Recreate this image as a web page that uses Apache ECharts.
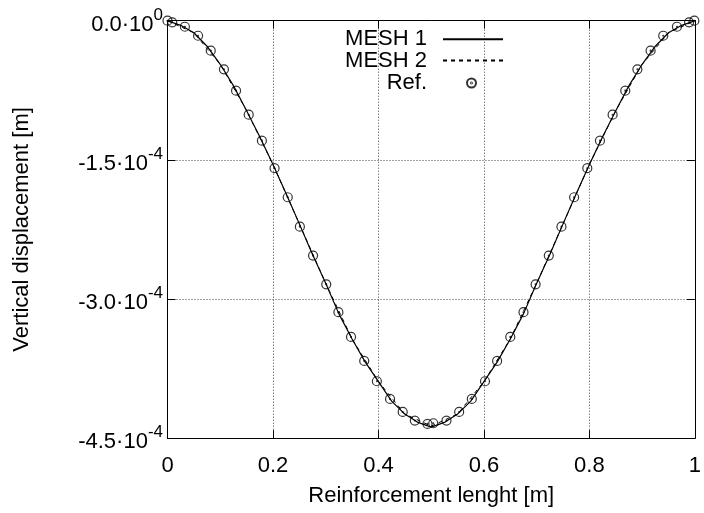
<!DOCTYPE html>
<html>
<head>
<meta charset="utf-8">
<script src="https://cdn.jsdelivr.net/npm/echarts@6/dist/echarts.min.js"></script>
<style>
html, body { margin: 0; padding: 0; background: #fff; }
#chart { width: 704px; height: 513px; }
</style>
</head>
<body>
<div id="chart"></div>
<script>
// MESH 1 (fine mesh)
const mesh1X = [0, 0.025, 0.05, 0.075, 0.1, 0.125, 0.15, 0.175, 0.2, 0.225, 0.25, 0.275, 0.3, 0.325, 0.35, 0.375, 0.4, 0.425, 0.45, 0.475,
    0.5, 0.525, 0.55, 0.575, 0.6, 0.625, 0.65, 0.675, 0.7, 0.725, 0.75, 0.775, 0.8, 0.825, 0.85, 0.875, 0.9, 0.925, 0.95, 0.975, 1];
const mesh1Y = [0, -0.05e-4, -0.13e-4, -0.275e-4, -0.47e-4, -0.70e-4, -0.97e-4, -1.25e-4, -1.55e-4, -1.865e-4, -2.19e-4, -2.52e-4, -2.83e-4, -3.16e-4, -3.43e-4, -3.68e-4, -3.89e-4, -4.10e-4, -4.24e-4, -4.33e-4,
    -4.38e-4, -4.33e-4, -4.24e-4, -4.10e-4, -3.89e-4, -3.68e-4, -3.43e-4, -3.16e-4, -2.83e-4, -2.52e-4, -2.19e-4, -1.865e-4, -1.55e-4, -1.25e-4, -0.97e-4, -0.70e-4, -0.47e-4, -0.275e-4, -0.13e-4, -0.05e-4, 0];

// MESH 2 (coarser mesh)
const mesh2X = [0, 0.05, 0.1, 0.15, 0.2, 0.25, 0.3, 0.35, 0.4, 0.45, 0.5, 0.55, 0.6, 0.65, 0.7, 0.75, 0.8, 0.85, 0.9, 0.95, 1];
const mesh2Y = [0, -0.13e-4, -0.47e-4, -0.97e-4, -1.55e-4, -2.19e-4, -2.83e-4, -3.43e-4, -3.89e-4, -4.24e-4, -4.37e-4,
    -4.24e-4, -3.89e-4, -3.43e-4, -2.83e-4, -2.19e-4, -1.55e-4, -0.97e-4, -0.47e-4, -0.13e-4, 0];

// reference points
const refX = [0, 0.009, 0.033, 0.058, 0.082, 0.107, 0.130, 0.154, 0.179, 0.203, 0.228, 0.251, 0.276, 0.301, 0.324, 0.348, 0.373, 0.397, 0.422, 0.446, 0.469, 0.493,
    0.504, 0.529, 0.553, 0.577, 0.602, 0.625, 0.650, 0.675, 0.698, 0.723, 0.747, 0.771, 0.796, 0.820, 0.844, 0.868, 0.891, 0.916, 0.940, 0.966, 0.989, 0.999];
const refY = [0, -0.017e-4, -0.065e-4, -0.162e-4, -0.323e-4, -0.524e-4, -0.754e-4, -1.013e-4, -1.293e-4, -1.590e-4, -1.903e-4, -2.220e-4, -2.532e-4, -2.841e-4, -3.142e-4, -3.408e-4, -3.667e-4, -3.886e-4, -4.077e-4, -4.217e-4, -4.310e-4, -4.346e-4,
    -4.339e-4, -4.310e-4, -4.217e-4, -4.077e-4, -3.886e-4, -3.667e-4, -3.408e-4, -3.142e-4, -2.841e-4, -2.532e-4, -2.220e-4, -1.903e-4, -1.590e-4, -1.293e-4, -1.013e-4, -0.754e-4, -0.524e-4, -0.323e-4, -0.162e-4, -0.065e-4, -0.017e-4, 0];

// y tick labels: mantissa and power of ten
const yTickMant = ["0.0", "-1.5", "-3.0", "-4.5"];
const yTickExp = ["0", "-4", "-4", "-4"];

const font = "'Liberation Sans', Arial, Helvetica, sans-serif";
const pairs = (xs, ys) => xs.map((x, i) => [x, ys[i]]);
const ring = "path://M10 0A10 10 0 1 1 9.99 0ZM10 9A1 1 0 1 1 9.99 9Z";

const gridDots = { type: [1, 2], color: "#444", width: 1 };
const axisLine = { show: true, onZero: false, lineStyle: { color: "#000", width: 1 } };
const axisTick = { show: true, inside: true, length: 8, lineStyle: { color: "#000", width: 1 } };
const legendText = (pad) => ({ fontSize: 22, color: "#000", fontFamily: font, padding: [0, pad, 0, 0] });

const chart = echarts.init(document.getElementById("chart"));

chart.setOption({
    animation: false,
    backgroundColor: "#fff",
    textStyle: { fontFamily: font, color: "#000" },
    grid: { left: 167.5, right: 4.2, top: 20.7, bottom: 74.8 },
    legend: [
        {
            data: ["MESH 1"], right: 200, top: 28.3, align: "right", orient: "vertical",
            itemWidth: 60, itemHeight: 14, padding: 0, selectedMode: false,
            itemStyle: { opacity: 0 }, textStyle: legendText(11)
        },
        {
            data: ["MESH 2"], right: 200, top: 49.5, align: "right", orient: "vertical",
            itemWidth: 60, itemHeight: 14, padding: 0, selectedMode: false,
            itemStyle: { opacity: 0 }, textStyle: legendText(11)
        },
        {
            data: ["Ref."], right: 227, top: 72, align: "right", orient: "vertical",
            itemWidth: 9, itemHeight: 9, padding: 0, selectedMode: false,
            textStyle: legendText(35)
        }
    ],
    xAxis: [
        {
            type: "value", min: 0, max: 1, interval: 0.2, position: "bottom",
            axisLine: axisLine, axisTick: axisTick,
            axisLabel: { margin: 17, fontSize: 22, color: "#000", fontFamily: font },
            splitLine: { show: true, lineStyle: gridDots },
            name: "Reinforcement lenght [m]", nameLocation: "middle", nameGap: 47,
            nameTextStyle: { fontSize: 22, color: "#000", fontFamily: font }
        },
        {
            type: "value", min: 0, max: 1, interval: 0.2, position: "top",
            axisLine: axisLine, axisTick: axisTick,
            axisLabel: { show: false }, splitLine: { show: false }
        }
    ],
    yAxis: [
        {
            type: "value", min: -4.5e-4, max: 0, interval: 1.5e-4, position: "left",
            axisLine: axisLine, axisTick: axisTick,
            axisLabel: {
                margin: 4.5,
                padding: [8, 0, 0, 0],
                formatter: (v) => {
                    const i = Math.round(-v / 1.5e-4);
                    return "{b|" + yTickMant[i] + "·10}{s|" + yTickExp[i] + "}";
                },
                rich: {
                    b: { fontSize: 22, lineHeight: 36, color: "#000", fontFamily: font },
                    s: { fontSize: 17, lineHeight: 16, verticalAlign: "top", color: "#000", fontFamily: font }
                }
            },
            splitLine: { show: true, lineStyle: gridDots },
            name: "Vertical displacement [m]", nameLocation: "middle", nameGap: 135,
            nameTextStyle: { fontSize: 22, color: "#000", fontFamily: font }
        },
        {
            type: "value", min: -4.5e-4, max: 0, interval: 1.5e-4, position: "right",
            axisLine: axisLine, axisTick: axisTick,
            axisLabel: { show: false }, splitLine: { show: false }
        }
    ],
    series: [
        {
            name: "MESH 1", type: "line", xAxisIndex: 0, yAxisIndex: 0,
            data: pairs(mesh1X, mesh1Y), symbol: "none",
            lineStyle: { color: "#000", width: 1.2 }, itemStyle: { color: "#000" }, z: 3
        },
        {
            name: "MESH 2", type: "line", xAxisIndex: 0, yAxisIndex: 0,
            data: pairs(mesh2X, mesh2Y), symbol: "none",
            lineStyle: { color: "#000", width: 1, type: [4, 4] }, itemStyle: { color: "#000" }, z: 3
        },
        {
            name: "Ref.", type: "scatter", xAxisIndex: 0, yAxisIndex: 0,
            data: pairs(refX, refY), symbol: ring, symbolSize: 9,
            itemStyle: { color: "rgba(0,0,0,0)", borderColor: "#000", borderWidth: 1.2 }, z: 4
        }
    ]
});
</script>
</body>
</html>
